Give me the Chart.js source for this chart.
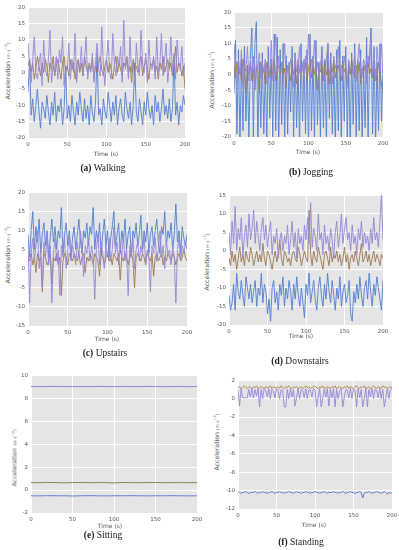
<!DOCTYPE html>
<html><head><meta charset="utf-8">
<script src="https://cdn.jsdelivr.net/npm/chart.js@4.4.0/dist/chart.umd.min.js"></script>
<style>
html,body{margin:0;padding:0;background:#fff;width:399px;height:550px;overflow:hidden;position:relative;}
canvas{position:absolute;}
.cap{position:absolute;font-family:"Liberation Serif","DejaVu Serif",serif;font-size:9.5px;color:#222;white-space:nowrap;transform:translate(-50%,-50%);}
.xt{position:absolute;font-family:"DejaVu Sans",sans-serif;font-size:6px;color:#555555;white-space:nowrap;transform:translate(-50%,-50%);}
.yt{position:absolute;font-family:"DejaVu Sans",sans-serif;font-size:6.2px;color:#555555;white-space:nowrap;transform:translate(-50%,-50%) rotate(-90deg);}
.yt .u{font-size:4.3px;}
</style></head><body>
<script>
// ---------- sampling times ----------
const tA = [0,2,4,6,8,10,12,14,16,18,20,22,24,26,28,30,32,34,36,38,40,42,44,46,48,50,52,54,56,58,60,62,64,66,68,70,72,74,76,78,80,82,84,86,88,90,92,94,96,98,100,102,104,106,108,110,112,114,116,118,120,122,124,126,128,130,132,134,136,138,140,142,144,146,148,150,152,154,156,158,160,162,164,166,168,170,172,174,176,178,180,182,184,186,188,190,192,194,196,198,200];
const tE = [0,10,20,30,40,50,60,70,80,90,100,110,120,130,140,150,160,170,180,190,200];
const xTicks = [0,50,100,150,200];

// ---------- (a) Walking ----------
const walkBlue = [-6,4,-13,-8,-15,-10,-5,-12,-17,-9, -11,-14,-7,-12,-16,-9,-13,-6,-15,-10, -12,-8,-16,-11,2,-14,-10,-15,-7,-12, -16,-9,-13,-6,-11,-15,-8,-14,-10,-16, -7,-12,-15,-9,6,-13,-11,-16,-8,-12, -14,-6,-10,-15,-9,-13,-7,-16,-11,-8, -13,-15,-6,-11,-14,-9,-16,-10,3,-12, -15,-8,-12,-16,-9,-13,-6,-11,-14,-10, -16,-7,-12,-9,-15,-11,-5,-13,-10,-14, -8,-15,-11,5,-13,-9,-16,-10,-12,-7, -10];
const walkPurple = [9,2,-3,4,11,0,-2,3,6,-4, 10,1,-1,4,13,-3,2,0,5,-2, 7,3,11,-4,2,1,9,-2,4,0, 12,-3,3,1,8,-1,4,11,-2,2, 0,6,-3,3,9,1,-1,14,2,-4, 4,10,0,-2,12,3,-1,5,2,8, -3,16,1,4,-2,11,0,3,-4,9, 2,-1,13,3,0,6,-3,10,2,1, 5,-2,11,0,3,12,-1,4,9,-3, 2,11,0,6,-2,10,3,1,8,-1, 3];
const walkBrown = [2,4,0,3,-2,1,5,2,-1,3, 0,4,2,-3,3,1,5,-1,2,4, 1,-2,3,5,0,2,-1,4,1,3, -2,2,4,0,3,-1,5,2,0,3, 1,4,-2,2,0,3,5,1,-1,2, 4,0,3,1,-2,2,5,0,3,1, -1,3,2,5,0,2,-3,4,1,2, 0,3,5,-1,2,4,1,-2,3,2, 4,0,2,-2,3,1,5,0,2,4, 1,3,-1,2,8,0,3,2,-1,2, -5];

// ---------- (b) Jogging ----------
const jogBlue = [-6,11,-19,8,-22,5,-18,9,-15,2, -21,6,15,-20,10,17,-24,4,-17,7, -19,3,-22,9,-14,5,-20,13,-18,12, -23,8,-16,10,-21,6,-19,4,-12,9, -20,7,-17,3,-22,10,-15,5,-19,8, -24,13,-18,6,-21,11,-16,4,-20,9, -17,5,-22,10,-14,7,-19,3,-23,8, -18,11,-21,6,-15,9,-20,4,-24,7, -16,10,-20,5,-18,8,-22,3,-17,12, -21,6,15,-19,9,-23,4,-18,10,-15, 2];
const jogPurple = [10,2,-3,5,0,8,-4,3,1,9, -2,4,0,6,-5,3,2,7,-1,4, 1,5,-3,3,0,11,-2,4,13,1, 6,-3,4,2,10,-1,3,0,5,2, -4,7,1,3,9,-2,4,0,6,1, 13,-3,5,2,11,0,4,-1,3,7, 1,-2,5,10,0,3,-3,6,2,4, 9,-1,3,0,6,2,-4,5,1,3, 0,7,-2,4,10,1,-1,5,3,-3, 6,2,11,0,4,-2,9,3,1,10, 0];
const jogBrown = [3,-1,4,0,2,-2,5,1,-6,3, 0,4,-2,2,-5,3,1,-6,4,0, 2,-3,4,1,-1,3,0,5,-2,2, 3,-1,4,0,2,-4,3,1,-2,4, 0,2,-3,5,1,-1,3,0,4,-2, 2,5,-1,3,0,4,-5,2,1,3, -2,4,0,2,-3,3,1,5,-1,2, 3,0,-2,4,1,2,-4,3,0,5, 1,-1,3,0,4,-3,2,1,3,-2, 4,0,2,-1,3,1,-2,4,0,-3, -6];

// ---------- (c) Upstairs ----------
const upBlue = [9,3,10,15,5,11,7,13,4,9, 12,6,10,3,8,13,7,11,5,10, 8,16,4,9,12,6,10,3,8,11, 5,9,13,7,4,10,8,12,6,11, 9,16,5,10,7,12,4,9,13,6, 10,3,8,11,15,6,9,12,4,10, 7,13,5,9,11,3,10,8,12,6, 9,14,5,10,7,12,4,9,11,6, 10,13,7,4,11,9,15,6,10,8, 12,5,9,17,7,10,4,11,8,6, 9];
const upPurple = [7,-9,4,8,2,6,10,0,5,-5, 7,3,9,1,6,-9,4,8,2,5, -7,6,3,8,0,5,9,2,6,4, 1,7,3,10,5,-2,6,4,8,2, 6,3,-8,5,9,1,7,4,0,6, 3,8,2,5,11,4,7,1,6,3, 9,2,5,-7,6,3,8,0,5,7, 2,6,4,9,1,5,3,-6,6,4, 8,2,5,10,3,6,0,7,4,5, 1,6,3,-9,5,8,2,6,4,7, 5];
const upBrown = [3,2,4,1,3,-1,4,2,3,-6, 4,3,1,2,4,-4,3,2,4,1, 3,-7,2,4,3,1,4,3,2,4, 3,2,4,1,3,4,-1,3,2,4, 3,1,4,3,2,-2,4,3,1,3, 4,2,3,1,4,3,2,4,-3,3, 2,4,3,1,3,4,2,-5,3,4, 3,2,4,3,1,4,3,2,4,-2, 3,4,2,3,4,1,3,2,4,3, 2,4,3,1,3,4,2,3,5,3, 2];

// ---------- (d) Downstairs ----------
const downBlue = [-12,-16,-14,-9,-16,-6,-11,-13,-8,-12, -15,-7,-10,-13,-9,-14,-11,-8,-15,-10, -12,-6,-14,-9,-11,-17,-13,-19,-10,-8, -14,-11,-16,-9,-12,-7,-15,-10,-13,-8, -11,-16,-9,-13,-7,-12,-15,-10,-14,-18, -9,-12,-6,-14,-11,-8,-13,-16,-10,-7, -12,-15,-9,-13,-6,-11,-14,-8,-12,-16, -10,-13,-7,-15,-11,-9,-14,-12,-8,-17, -19,-11,-14,-9,-13,-7,-12,-15,-10,-8, -13,-6,-11,-15,-9,-12,-7,-10,-13,-16, -8];
const downPurple = [5,-1,8,2,12,0,6,3,9,-2, 4,7,1,10,3,6,11,2,8,4, 0,6,9,3,7,1,5,8,-1,4, 2,6,-2,3,5,0,4,2,7,-1, 3,8,1,5,-2,6,2,4,0,7, 3,9,2,13,1,6,4,0,10,3, 5,-1,7,2,4,0,6,3,-2,5, 8,1,4,10,2,6,9,3,5,0, 7,2,4,-1,6,3,8,1,5,2, 4,0,6,2,9,3,5,1,8,15, 3];
const downBrown = [-2,-4,0,-3,-1,-5,-2,1,-3,-1, -4,0,-2,-3,1,-1,-4,-2,0,-3, -1,-3,2,-2,-4,0,-1,-3,-5,-2, 0,-3,-1,3,-2,-4,0,-1,-3,-2, -4,-1,0,-2,-3,1,-1,-4,-2,0, -2,-3,11,-1,-4,0,-2,-3,1,-1, -3,-5,-1,0,-2,-4,1,-3,-1,-2, 0,-3,-1,-4,-2,1,-3,-1,-5,-2, -1,-3,0,-2,-4,-1,2,-3,-2,0, -3,-1,-4,-2,0,-3,-1,-2,-4,-1, -2];

// ---------- (e) Sitting ----------
const sitTop = [9.02,9.01,9.02,9.03,9.01,9.02,9.02,9.01,9.03,9.02,9.01,9.02,9.02,9.01,9.03,9.02,9.01,9.02,9.02,9.01,9.02];
const sitMid = [0.65,0.64,0.66,0.65,0.63,0.65,0.66,0.64,0.65,0.65,0.62,0.66,0.65,0.64,0.65,0.66,0.64,0.65,0.65,0.64,0.65];
const sitLow = [-0.5,-0.51,-0.49,-0.5,-0.5,-0.52,-0.5,-0.49,-0.5,-0.51,-0.5,-0.5,-0.49,-0.5,-0.51,-0.5,-0.5,-0.49,-0.5,-0.51,-0.5];

// ---------- (f) Standing ----------
const standBrown = [1.2,1.3,1.1,1.2,1.4,1.2,1.1,1.3,1.2,1.1, 1.3,1.2,1.4,1.1,1.2,1.3,1.2,1.1,1.3,1.2, 1.2,1.4,1.1,1.3,1.2,1.2,1.3,1.1,1.4,1.2, 1.1,1.3,1.2,1.4,1.2,1.1,1.3,1.2,1.3,1.1, 1.2,1.3,1.1,1.2,1.4,1.2,1.3,1.1,1.2,1.3, 1.4,1.2,1.1,1.3,1.2,1.4,1.1,1.2,1.3,1.2, 1.1,1.3,1.2,1.4,1.1,1.2,1.3,1.2,1.1,1.3, 1.2,1.4,1.1,1.3,1.2,1.1,1.3,1.4,1.2,1.1, 1.3,1.2,1.4,1.1,1.2,1.3,1.1,1.2,1.4,1.2, 1.1,1.3,1.2,1.1,1.4,1.2,1.3,1.1,1.2,1.3, 1.2];
const standPurple = [1.0,-0.8,1.1,0.1,0.1,0.1,0.1,1.0,0.2,1.1, 0.1,1.0,0.3,1.1,-0.9,1.0,0.0,1.1,0.9,0.2, 1.1,0.0,1.0,0.8,0.1,1.1,0.9,0.0,1.0,0.9, -0.9,-0.9,1.0,0.0,1.1,0.2,1.0,-0.8,0.1,1.1, 0.0,1.0,0.9,0.1,1.1,0.0,1.0,0.9,0.2,1.1, 1.0,-0.9,0.1,1.1,-0.9,0.0,1.0,0.2,1.1,-0.8, 1.0,0.1,1.1,-0.9,1.0,0.0,0.9,1.1,-0.9,0.1, 1.0,0.9,0.1,1.1,0.0,1.0,0.9,-0.9,1.1,0.1, 1.0,-0.9,0.0,1.1,-0.9,1.0,0.2,1.1,0.0,1.0, 0.9,0.1,1.1,0.0,1.0,-0.9,0.1,1.1,0.0,1.0, 1.1];
const standBlue = [-10.1,-10.2,-10.3,-10.2,-10.2,-10.1,-10.2,-10.3,-10.2,-10.2, -10.2,-10.1,-10.2,-10.3,-10.2,-10.2,-10.1,-10.2,-10.2,-10.3, -10.2,-10.2,-10.1,-10.2,-10.3,-10.2,-10.2,-10.1,-10.2,-10.2, -10.3,-10.2,-10.2,-10.1,-10.2,-10.2,-10.3,-10.2,-10.1,-10.2, -10.2,-10.3,-10.2,-10.2,-10.1,-10.2,-10.2,-10.3,-10.2,-10.2, -10.1,-10.2,-10.2,-10.3,-10.2,-10.2,-10.1,-10.2,-10.3,-10.2, -10.2,-10.2,-10.1,-10.2,-10.2,-10.3,-10.2,-10.2,-10.1,-10.2, -10.3,-10.2,-10.2,-10.1,-10.2,-10.2,-10.3,-10.2,-10.2,-10.1, -10.2,-10.8,-10.3,-10.2,-10.2,-10.1,-10.2,-10.3,-10.2,-10.2, -10.1,-10.2,-10.2,-10.3,-10.2,-10.1,-10.2,-10.4,-10.2,-10.3, -10.2];

// ---------- styles ----------
const BLUE='rgba(80,125,210,0.9)', PURPLE='rgba(150,135,215,0.92)', BROWN='rgba(155,120,80,0.9)';

const bgPlugin={id:'bg',beforeDraw(ch){const a=ch.chartArea,ctx=ch.ctx;ctx.save();ctx.fillStyle='#e5e5e5';ctx.fillRect(a.left,a.top,a.right-a.left,a.bottom-a.top);ctx.restore();}};

function addText(cls, html, x, y){const d=document.createElement('div');d.className=cls;d.innerHTML=html;d.style.left=x+'px';d.style.top=y+'px';document.body.appendChild(d);}

function mk(box, ymin, ymax, ystep, series){
  const [L,T,R,B]=box; const YW=14, PT=6, PR=10, XH=12;
  const c=document.createElement('canvas');
  c.width=R-L+YW+PR; c.height=B-T+PT+XH;
  c.style.left=(L-YW)+'px'; c.style.top=(T-PT)+'px';
  document.body.appendChild(c);
  const tickFont={size:5.5,family:'DejaVu Sans'};
  new Chart(c,{type:'line',
    data:{datasets:series.map(s=>({data:s.t.map((x,i)=>({x:x,y:s.v[i]})),borderColor:s.c,borderWidth:1,pointRadius:0,tension:0,fill:false,order:s.o}))},
    options:{responsive:false,animation:false,events:[],
      layout:{padding:{top:PT,right:PR,left:0,bottom:0}},
      plugins:{legend:{display:false},tooltip:{enabled:false}},
      scales:{
        x:{type:'linear',min:0,max:200,afterBuildTicks:s=>{s.ticks=xTicks.map(v=>({value:v}));},
           ticks:{font:tickFont,color:'#555',padding:3,maxRotation:0,autoSkip:false},
           grid:{color:'#ffffff',lineWidth:1,drawTicks:false},border:{display:false},
           afterFit:s=>{s.height=XH;}},
        y:{type:'linear',min:ymin,max:ymax,ticks:{stepSize:ystep,font:tickFont,color:'#555',padding:3},
           grid:{color:'#ffffff',lineWidth:1,drawTicks:false},border:{display:false},
           afterFit:s=>{s.width=YW;}}
      }},
    plugins:[bgPlugin]});
}

mk([28,7,185,138],-20,20,5,[{t:tA,v:walkBlue,c:BLUE,o:2},{t:tA,v:walkBrown,c:BROWN,o:1},{t:tA,v:walkPurple,c:PURPLE,o:0}]);
mk([234,12,383,137],-20,20,5,[{t:tA,v:jogBlue,c:BLUE,o:2},{t:tA,v:jogBrown,c:BROWN,o:1},{t:tA,v:jogPurple,c:PURPLE,o:0}]);
mk([28,192,187,326],-15,20,5,[{t:tA,v:upBlue,c:BLUE,o:2},{t:tA,v:upBrown,c:BROWN,o:1},{t:tA,v:upPurple,c:PURPLE,o:0}]);
mk([229,195,383,325],-20,15,5,[{t:tA,v:downBlue,c:BLUE,o:2},{t:tA,v:downBrown,c:BROWN,o:1},{t:tA,v:downPurple,c:PURPLE,o:0}]);
mk([31,375,197,513],-2,10,2,[{t:tE,v:sitTop,c:'#8a86d4',o:0},{t:tE,v:sitMid,c:'#7f8a55',o:1},{t:tE,v:sitLow,c:'#6a7fcf',o:2}]);
mk([238,380,392,509],-12,2,2,[{t:tA,v:standBlue,c:'#6676c8',o:2},{t:tA,v:standBrown,c:'#b08a4e',o:1},{t:tA,v:standPurple,c:PURPLE,o:0}]);

const yTitle='Acceleration <span class="u">(m s<sup>−2</sup>)</span>';
[[7,71],[211,80],[7,255],[206,262],[14,458],[216,442]].forEach(p=>addText('yt',yTitle,p[0],p[1]));
[[106,153],[308,151],[107,338],[301,335],[110,525],[314,524]].forEach(p=>addText('xt','Time (s)',p[0],p[1]));
addText('cap','<b>(a)</b> Walking',103,168);
addText('cap','<b>(b)</b> Jogging',311,172);
addText('cap','<b>(c)</b> Upstairs',105,353);
addText('cap','<b>(d)</b> Downstairs',300,361);
addText('cap','<b>(e)</b> Sitting',103,535);
addText('cap','<b>(f)</b> Standing',301,542);
</script>
</body></html>
